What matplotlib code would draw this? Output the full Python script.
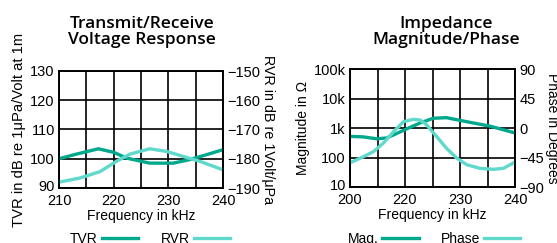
import numpy as np
import matplotlib
matplotlib.use("Agg")
import matplotlib.pyplot as plt
import matplotlib.transforms as mtransforms
from matplotlib.lines import Line2D

plt.rcParams['font.family'] = ['Liberation Sans', 'DejaVu Sans']

# --- transmit / receive voltage response ---
tvr_freq = [210, 213, 217.2, 220, 222.4, 226.6, 230.9, 233.9, 237, 240]
tvr_db = [100, 101.5, 103.4, 102.2, 100.2, 98.5, 98.5, 99.7, 101.4, 103.1]
rvr_freq = [210, 213.8, 217.5, 220.5, 223, 226.6, 229.7, 232.7, 235.8, 240]
rvr_db = [-188, -186.6, -184.4, -180.9, -178.4, -176.6, -177.5, -179.2, -180.9, -183.8]

# --- impedance magnitude / phase (x in axis units, labels are as printed) ---
mag_freq = [200, 203.2, 206.5, 208.9, 211.3, 213.7, 217, 220.2, 223.4, 225.9, 229.9, 234, 240]
mag_ohm = [520, 500, 430, 460, 650, 930, 1480, 2140, 2240, 1900, 1480, 1150, 680]
ph_freq = [200, 203.2, 205.7, 208.1, 210.5, 213, 215.4, 217, 218.6, 221, 223.4, 225.9,
           228.3, 231.5, 234.7, 237.2, 240]
ph_deg = [-53, -44, -36, -23, -6, 9.7, 13.2, 12.2, 4.6, -13, -31, -46, -56, -61.5, -63, -61.5, -52]

imp_xticks = [200, 213.333, 226.667, 240]
imp_xlabels = ["200", "220", "230", "240"]
mag_ticks = [10, 100, 1000, 10000, 100000]
mag_labels = ["10", "100", "1k", "10k", "100k"]
ph_ticks = [-90, -45, 0, 45, 90]

DARK = "#00a88c"
LIGHT = "#5fd9cb"
LW = 2.4
TITLE_FONT = ["Open Sans", "DejaVu Sans"]

fig = plt.figure(figsize=(5.57, 2.43), dpi=100)


def frame(ax):
    for s in ax.spines.values():
        s.set_linewidth(1.2)
        s.set_color("black")
    ax.tick_params(length=0, labelsize=10.5, pad=3)


def lift_bottom_label(ax, px):
    # the bottom y label sits a little above the corner
    lab = ax.get_yticklabels()[0]
    lab.set_transform(lab.get_transform() + mtransforms.ScaledTranslation(0, px / 100, fig.dpi_scale_trans))


# left chart
ax1 = fig.add_axes([59 / 557, 1 - 188 / 243, 164 / 557, 117 / 243])
ax1.set_xlim(210, 240)
ax1.set_ylim(90, 130)
ax1.set_xticks(np.arange(210, 241, 5))
ax1.set_xticklabels(["210", "", "220", "", "230", "", "240"])
ax1.set_yticks([90, 100, 110, 120, 130])
ax1.grid(True, color="black", lw=1.2)
ax1.set_axisbelow(True)
frame(ax1)
ax1.tick_params(axis="x", pad=4)
ax1.set_xlabel("Frequency in kHz", fontsize=10, labelpad=1)
ax1.set_ylabel("TVR in dB re 1μPa/Volt at 1m", fontsize=10.6, labelpad=3)
ax1b = ax1.twinx()
ax1b.set_ylim(-190, -150)
ax1b.set_yticks([-190, -180, -170, -160, -150])
frame(ax1b)
ax1b.set_ylabel("RVR in dB re 1Volt/μPa", fontsize=10.3, rotation=-90, labelpad=11)
ax1.plot(tvr_freq, tvr_db, color=DARK, lw=LW, zorder=3)
ax1b.plot(rvr_freq, rvr_db, color=LIGHT, lw=LW)

fig.text(142 / 557, 1 - 32 / 243, "Transmit/Receive\nVoltage Response", ha="center", va="center",
         fontsize=12.5, fontweight="semibold", family=TITLE_FONT, linespacing=1.05)
h1 = [Line2D([], [], color=DARK, lw=LW), Line2D([], [], color=LIGHT, lw=LW)]
fig.legend(h1, ["TVR", "RVR"], loc="center", bbox_to_anchor=(150 / 557, 1 - 239 / 243), ncol=2,
           frameon=False, markerfirst=False, fontsize=10, handlelength=2.6, handletextpad=0.3,
           columnspacing=1.6, borderpad=0)

# right chart
ax2 = fig.add_axes([350 / 557, 1 - 187 / 243, 165 / 557, 118 / 243])
ax2.set_xlim(200, 240)
ax2.set_yscale("log")
ax2.set_ylim(10, 100000)
ax2.set_xticks(np.linspace(200, 240, 7), minor=True)
ax2.set_xticks(imp_xticks)
ax2.set_xticklabels(imp_xlabels)
ax2.set_yticks(mag_ticks)
ax2.set_yticklabels(mag_labels)
ax2.yaxis.set_minor_locator(matplotlib.ticker.NullLocator())
ax2.grid(True, which="both", axis="x", color="black", lw=1.2)
ax2.grid(True, which="major", axis="y", color="black", lw=1.2)
ax2.set_axisbelow(True)
frame(ax2)
ax2.tick_params(axis="x", pad=4)
ax2.tick_params(which="minor", length=0)
ax2.set_xlabel("Frequency in kHz", fontsize=10, labelpad=1)
ax2.set_ylabel("Magnitude in Ω", fontsize=10, labelpad=3)
ax2b = ax2.twinx()
ax2b.set_ylim(-90, 90)
ax2b.set_yticks(ph_ticks)
frame(ax2b)
ax2b.set_ylabel("Phase in Degrees", fontsize=10, rotation=-90, labelpad=11)
ax2.plot(mag_freq, mag_ohm, color=DARK, lw=LW, zorder=3)
ax2b.plot(ph_freq, ph_deg, color=LIGHT, lw=LW)
fig.text(446 / 557, 1 - 32 / 243, "Impedance\nMagnitude/Phase", ha="center", va="center",
         fontsize=12.5, fontweight="semibold", family=TITLE_FONT, linespacing=1.05)
h2 = [Line2D([], [], color=DARK, lw=LW), Line2D([], [], color=LIGHT, lw=LW)]
fig.legend(h2, ["Mag.", "Phase"], loc="center", bbox_to_anchor=(434 / 557, 1 - 239 / 243), ncol=2,
           frameon=False, markerfirst=False, fontsize=10, handlelength=2.6, handletextpad=0.3,
           columnspacing=1.6, borderpad=0)

fig.canvas.draw()
lift_bottom_label(ax1, 3)
lift_bottom_label(ax2, 3)

fig.savefig("out.png", dpi=100)
